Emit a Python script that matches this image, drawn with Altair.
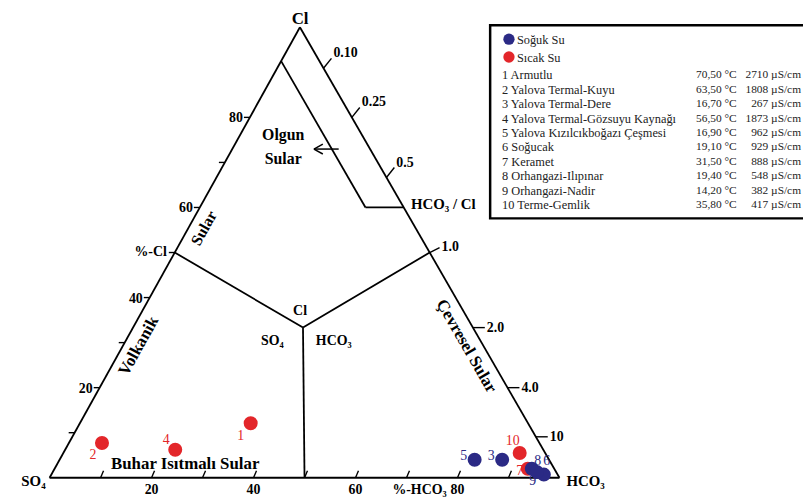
import altair as alt
import pandas as pd

# ---------------- data ----------------
sample_no = [1, 2, 3, 4, 5, 6, 7, 8, 9, 10]
sample_name = ["Armutlu", "Yalova Termal-Kuyu", "Yalova Termal-Dere",
               "Yalova Termal-Gözsuyu Kaynağı", "Yalova Kızılcıkboğazı Çeşmesi",
               "Soğucak", "Keramet", "Orhangazi-Ilıpınar", "Orhangazi-Nadir",
               "Terme-Gemlik"]
temperature_c = ["70,50", "63,50", "16,70", "56,50", "16,90",
                 "19,10", "31,50", "19,40", "14,20", "35,80"]
conductivity_us = [2710, 1808, 267, 1873, 962, 929, 888, 548, 382, 417]
water_type = ["Sıcak Su", "Sıcak Su", "Soğuk Su", "Sıcak Su", "Soğuk Su",
              "Soğuk Su", "Sıcak Su", "Soğuk Su", "Soğuk Su", "Sıcak Su"]
cl_percent = [12.1, 7.7, 4.0, 6.2, 4.0, 0.7, 2.0, 2.0, 1.3, 5.5]
hco3_percent = [33.5, 6.5, 86.8, 21.6, 81.4, 96.6, 92.8, 93.6, 94.9, 89.5]

type_names = ["Soğuk Su", "Sıcak Su"]
type_colors = ["#2b2a85", "#e3262a"]
label_colors = ["#3c3c96", "#e04444"]

scale_ticks = [10, 20, 30, 40, 50, 60, 70, 80, 90]
scale_labels = [20, 40, 60, 80]
ratio_ticks = [0.10, 0.25, 0.5, 1.0, 2.0, 4.0, 10]
ratio_text = ["0.10", "0.25", "0.5", "1.0", "2.0", "4.0", "10"]

# ---------------- layout ----------------
PLOT_W, PLOT_H = 515, 455
LEFT, TOP = 42, 17
CANVAS_W, CANVAS_H = 803, 493
APEX_LEAN = 0.491
SX, SY = PLOT_W / 100, PLOT_H / 100
X0, Y0 = 8 + LEFT, 8 + TOP + PLOT_H
FONT = "Liberation Serif"
LEG_FS = 12.5
LEG_FS_NUM = 11.5
LABEL_OFFSETS = {1: (-10, 13), 2: (-9, 12), 3: (-11, -4), 4: (-9, -10), 5: (-11, -4),
                 6: (3, -14), 7: (-8, 2), 8: (6, -8), 9: (-4, 9), 10: (-7, -12)}


def tern(hco3, cl):
    return hco3 + APEX_LEAN * cl, cl


def at(px, py):
    return (px - X0) / SX, (Y0 - py) / SY


def shift(p, dxp, dyp):
    return p[0] + dxp / SX, p[1] - dyp / SY


xs = alt.Scale(domain=[0, 100], nice=False, zero=False)
ys = alt.Scale(domain=[0, 100], nice=False, zero=False)

# ---------------- frame segments ----------------
segs = []


def seg(p, q, w=1.8):
    segs.append({"x": p[0], "y": p[1], "x2": q[0], "y2": q[1], "w": w})


A, B, C = tern(0, 0), tern(100, 0), tern(0, 100)
seg(A, B); seg(B, C); seg(C, A)
G = tern(100 / 3, 100 / 3)
seg(tern(0, 50), G); seg(G, tern(50, 0)); seg(G, tern(50, 50))
seg(tern(0, 92.5), tern(32.5, 60)); seg(tern(32.5, 60), tern(40, 60))
a0 = at(317, 148)
seg(a0, at(342, 148), 1.5); seg(a0, at(326, 143), 1.5); seg(a0, at(326, 153), 1.5)
for v in scale_ticks:
    p = tern(v, 0)
    seg(p, shift(p, 3, -7), 1.4)
    if v < 90:
        q = tern(0, v)
        seg(q, shift(q, -6, 0), 1.4)

texts_left = []
for r, lab in zip(ratio_ticks, ratio_text):
    f = r / (1 + r)
    p = tern(100 * f, 100 * (1 - f))
    if r < 1:
        e = shift(p, 8, -10); lp = shift(e, 2, -5)
    elif r == 1:
        e = shift(p, 10, -5); lp = shift(e, 2, -1)
    else:
        e = shift(p, 12, 0); lp = shift(e, 2, 0)
    seg(p, e, 1.4)
    texts_left.append({"x": lp[0], "y": lp[1], "text": lab, "size": 14, "angle": 0})

seg_df = pd.DataFrame(segs)

# ---------------- text annotations ----------------
def row(text, p, size, angle=0):
    return {"x": p[0], "y": p[1], "text": text, "size": size, "angle": angle}


texts_center = [
    row("Cl", at(303, 17), 17),
    row("Olgun", at(286, 134), 16),
    row("Sular", at(286, 158), 16),
    row("Buhar Isıtmalı Sular", at(187, 466), 17),
    row("Sular", at(206, 228), 16, 299),
    row("Volkanik", at(140, 347), 17, 299),
    row("Çevresel Sular", at(471, 347), 17, 60),
    row("Cl", at(303, 312), 14),
    row("SO₄", at(275, 342), 14),
    row("HCO₃", at(337, 342), 14),
]
for v in scale_labels:
    texts_center.append(row(str(v), (tern(v, 0)[0], at(0, 492)[1]), 14))

texts_right = [
    row("SO₄", at(46, 483), 15),
    row("%-Cl", shift(tern(0, 50), -8, 0), 14),
    row("%-HCO₃", at(451, 492), 14),
]
for v in scale_labels:
    texts_right.append(row(str(v), shift(tern(0, v), -7, 1), 14))

texts_left += [
    row("HCO₃", at(572, 483), 15),
    row("HCO₃ / Cl", at(415, 204), 15),
]


def text_layer(rows, align, weight, color="black"):
    df = pd.DataFrame(rows)
    return alt.Chart(df).mark_text(align=align, baseline="middle", font=FONT,
                                   fontWeight=weight, color=color).encode(
        x=alt.X("x:Q", scale=xs, axis=None),
        y=alt.Y("y:Q", scale=ys, axis=None),
        text="text:N",
        size=alt.Size("size:Q", scale=None, legend=None),
        angle=alt.Angle("angle:Q", scale=None),
    )


# ---------------- sample points ----------------
pts = pd.DataFrame({"no": sample_no, "type": water_type,
                    "cl": cl_percent, "hco3": hco3_percent})
pts["x"] = pts["hco3"] + APEX_LEAN * pts["cl"]
pts["y"] = pts["cl"]
pts["lx"] = [x + LABEL_OFFSETS[n][0] / SX for x, n in zip(pts["x"], pts["no"])]
pts["ly"] = [y - LABEL_OFFSETS[n][1] / SY for y, n in zip(pts["y"], pts["no"])]
pts["label"] = pts["no"].astype(str)
pts["rank"] = [0 if t == "Sıcak Su" else 1 for t in pts["type"]]
pts = pts.sort_values("rank")

points = alt.Chart(pts).mark_circle(size=200, opacity=1).encode(
    x=alt.X("x:Q", scale=xs, axis=None),
    y=alt.Y("y:Q", scale=ys, axis=None),
    color=alt.Color("type:N", scale=alt.Scale(domain=type_names, range=type_colors), legend=None),
)
point_labels = alt.Chart(pts).mark_text(font=FONT, fontSize=14, align="center",
                                        baseline="middle").encode(
    x=alt.X("lx:Q", scale=xs, axis=None),
    y=alt.Y("ly:Q", scale=ys, axis=None),
    text="label:N",
    color=alt.Color("type:N", scale=alt.Scale(domain=type_names, range=label_colors), legend=None),
)

rules = alt.Chart(seg_df).mark_rule(color="black").encode(
    x=alt.X("x:Q", scale=xs, axis=None), y=alt.Y("y:Q", scale=ys, axis=None),
    x2="x2:Q", y2="y2:Q",
    strokeWidth=alt.StrokeWidth("w:Q", scale=None, legend=None),
)

# ---------------- legend box ----------------
b0, b1 = at(495, 23), at(830, 218)
box = alt.Chart(pd.DataFrame([{"x": b0[0], "y": b0[1], "x2": b1[0], "y2": b1[1]}])).mark_rect(
    fill="white", stroke="black", strokeWidth=2.5).encode(
    x=alt.X("x:Q", scale=xs, axis=None), y=alt.Y("y:Q", scale=ys, axis=None),
    x2="x2:Q", y2="y2:Q")

leg_sym = pd.DataFrame({"type": type_names,
                        "x": [at(514, 37)[0], at(514, 55)[0]],
                        "y": [at(514, 37)[1], at(514, 55)[1]]})
legend_points = alt.Chart(leg_sym).mark_circle(size=130, opacity=1).encode(
    x=alt.X("x:Q", scale=xs, axis=None), y=alt.Y("y:Q", scale=ys, axis=None),
    color=alt.Color("type:N", scale=alt.Scale(domain=type_names, range=type_colors), legend=None),
)

leg_left = [row(type_names[0], at(522, 38), LEG_FS), row(type_names[1], at(522, 56), LEG_FS)]
leg_right = []
for i, (n, nm, t, c) in enumerate(zip(sample_no, sample_name, temperature_c, conductivity_us)):
    py = 73.3 + 14.63 * i
    leg_left.append(row(f"{n} {nm}", at(507, py), LEG_FS))
    leg_right.append(row(f"{t} °C", at(744, py), LEG_FS_NUM))
    leg_right.append(row(f"{c} µS/cm", at(809, py), LEG_FS_NUM))

chart = alt.layer(
    box,
    rules,
    points,
    point_labels,
    text_layer(texts_center, "center", "bold"),
    text_layer(texts_right, "right", "bold"),
    text_layer(texts_left, "left", "bold"),
    legend_points,
    text_layer(leg_left, "left", "normal", "#222222"),
    text_layer(leg_right, "right", "normal", "#222222"),
).properties(
    width=PLOT_W, height=PLOT_H,
    autosize=alt.AutoSizeParams(type="none"),
    padding={"left": LEFT, "top": TOP, "right": CANVAS_W - LEFT - PLOT_W,
             "bottom": CANVAS_H - TOP - PLOT_H},
    background="white",
).configure_view(stroke=None)

chart.save("out.html", embed_options={"renderer": "svg", "actions": False})
